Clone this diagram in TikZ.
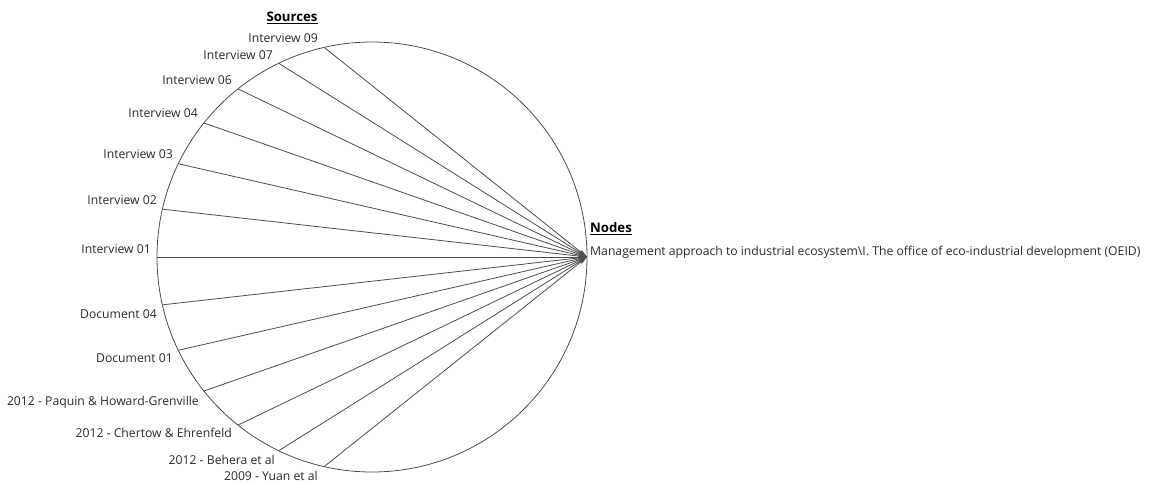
\documentclass[tikz,border=0pt]{standalone}
\usepackage{fontspec}
\setmainfont{Open Sans}
\definecolor{edge}{HTML}{4D4D4D}
\definecolor{ink}{HTML}{2B2B2B}
\usetikzlibrary{arrows.meta,calc}
\tikzset{
  >={Stealth[length=9pt,width=4.5pt]},
  srclab/.style={anchor=east,inner sep=0pt,text height=8pt,text depth=2.5pt,font=\fontsize{12.2}{14}\selectfont,text=ink},
  headlab/.style={inner sep=0pt,font=\fontsize{13.2}{15}\selectfont\bfseries},
  tie/.style={->,draw=edge,line width=0.8pt},
}

\begin{document}
\begin{tikzpicture}[x=1pt,y=-1pt]
\useasboundingbox (0,0) rectangle (1149,484);
\clip (0,0) rectangle (1149,484);
\coordinate (ctr) at (372,257);
\coordinate (hub) at (587,257);
\draw[edge,line width=0.8pt] (ctr) circle (215pt);
% sources: label / angle on the circle / label right edge
\foreach \name/\ang/\lx/\ly [count=\i] in {
  Interview 09/102.86/318/40, Interview 07/115.71/273/57,
  Interview 06/128.57/232/82, Interview 04/141.43/198/115,
  Interview 03/154.29/173/156, Interview 02/167.14/157/202,
  Interview 01/180/151/251, Document 04/192.86/157/316,
  Document 01/205.71/173/360, 2012 - Paquin \& Howard-Grenville/218.57/199/403,
  2012 - Chertow \& Ehrenfeld/231.43/232/435, 2012 - Behera et al/244.29/275/462,
  2009 - Yuan et al/257.14/318/478}{
  \coordinate (s\i) at ($(ctr)+(\ang:215pt)$);
  \node[srclab] (l\i) at (\lx,\ly) {\name};
  \draw[tie] (s\i) -- (hub);
}
\node[headlab] (src) at (292,18) {\underline{Sources}};
\node[headlab,anchor=west] (nds) at (590,229) {\underline{Nodes}};
\node[srclab,anchor=west] (n1) at (590,253) {Management approach to industrial ecosystem\textbackslash I. The office of eco-industrial development (OEID)};
\end{tikzpicture}
\end{document}
